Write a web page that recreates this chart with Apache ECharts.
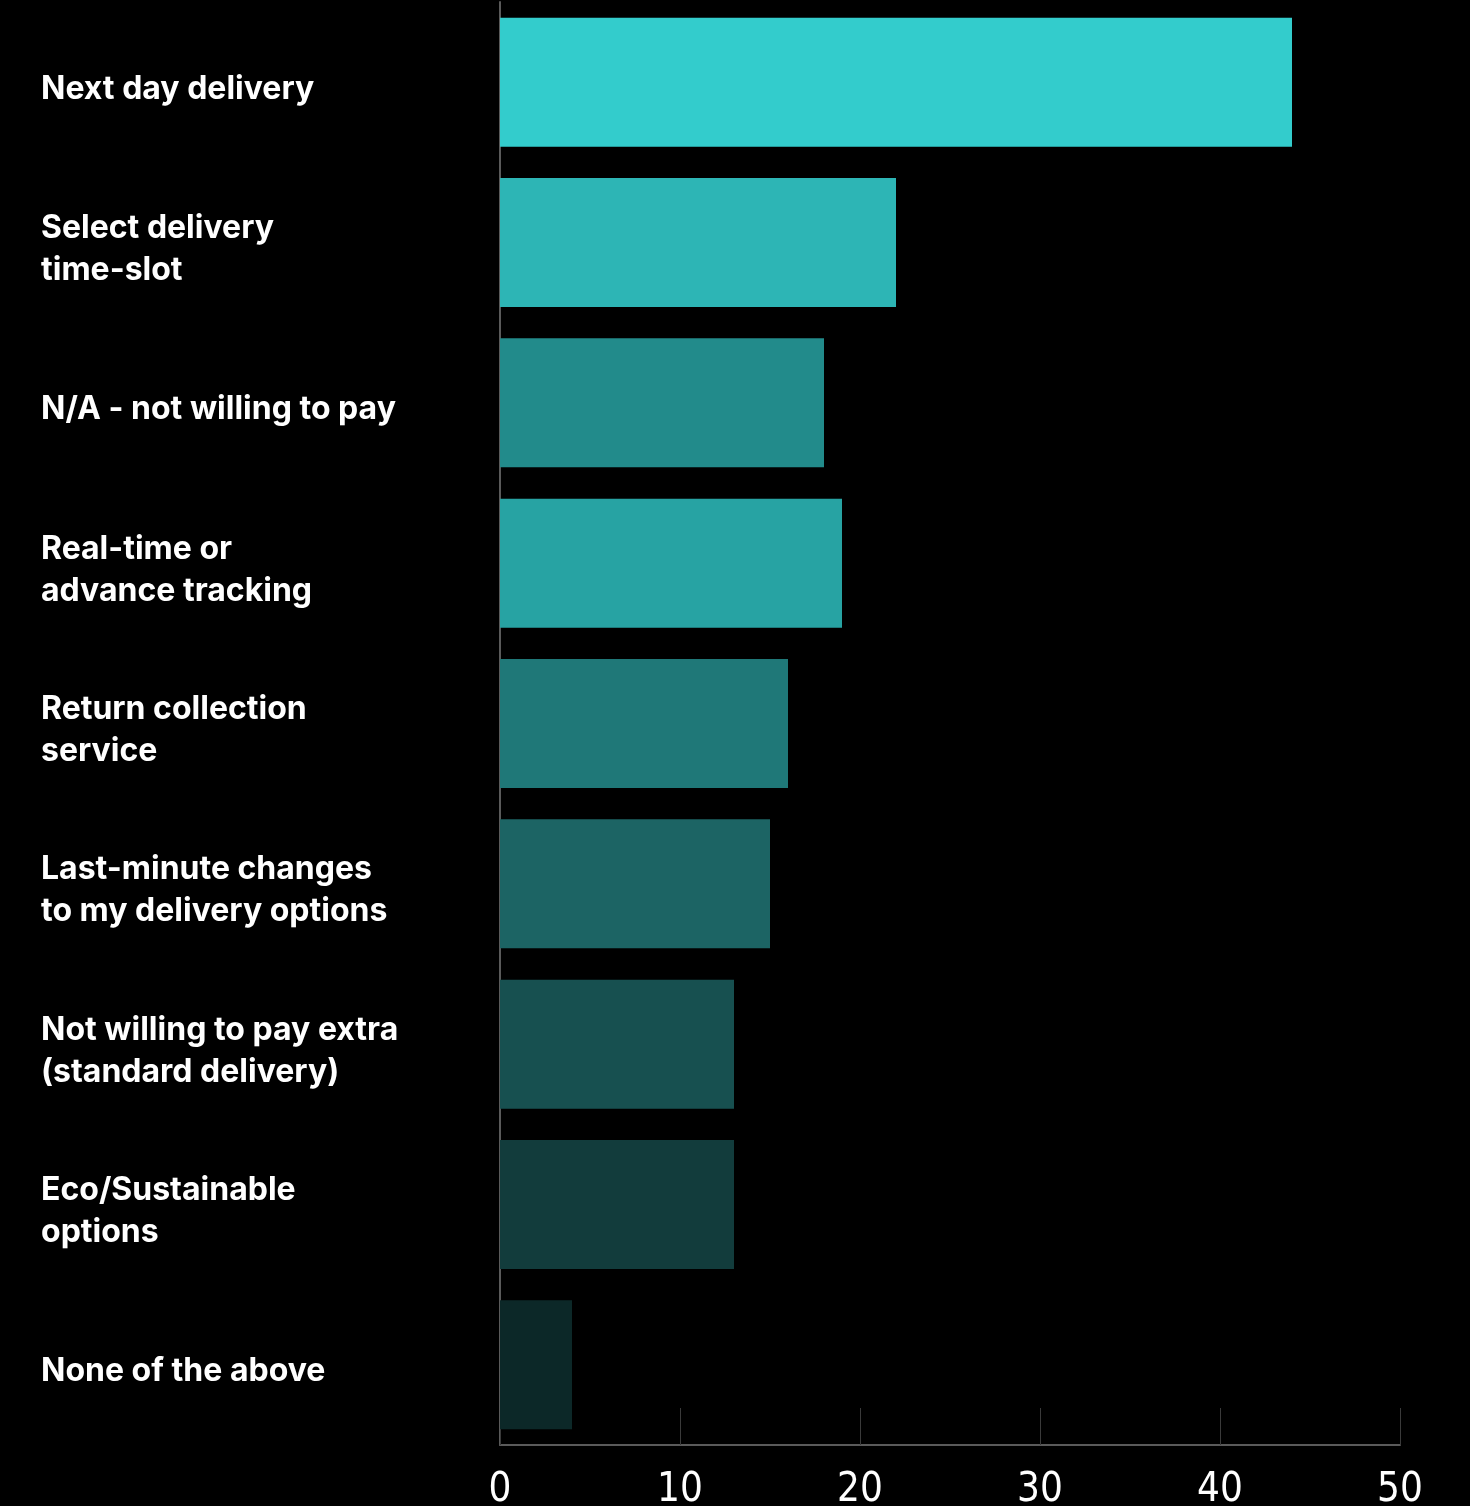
<!DOCTYPE html>
<html>
<head>
<meta charset="utf-8">
<script src="https://cdn.jsdelivr.net/npm/echarts@6/dist/echarts.min.js"></script>
<style>
  html, body { margin: 0; padding: 0; background: #000; }
  #chart { width: 1470px; height: 1506px; }
</style>
</head>
<body>
<div id="chart"></div>
<script>
// categories, top to bottom
const categories = [
  'Next day delivery',
  'Select delivery\ntime-slot',
  'N/A - not willing to pay',
  'Real-time or\nadvance tracking',
  'Return collection\nservice',
  'Last-minute changes\nto my delivery options',
  'Not willing to pay extra\n(standard delivery)',
  'Eco/Sustainable\noptions',
  'None of the above'
];
const values = [44, 22, 18, 19, 16, 15, 13, 13, 4];
const barColors = ['#33cccc', '#2db5b5', '#228b8b', '#27a3a3', '#1f7878',
                   '#1c6464', '#175050', '#123c3c', '#0c2828'];
const xTicks = [0, 10, 20, 30, 40, 50];

var chart = echarts.init(document.getElementById('chart'));

var labelFont = {
  color: '#fff',
  fontSize: 32,
  fontWeight: 700,
  fontFamily: 'Inter, sans-serif',
  lineHeight: 42
};

var option = {
  backgroundColor: '#000',
  animation: false,
  grid: { left: 500, right: 70, top: 2, bottom: 61, containLabel: false, outerBoundsMode: 'none' },
  xAxis: {
    type: 'value',
    min: xTicks[0],
    max: xTicks[xTicks.length - 1],
    interval: 10,
    axisLine: { show: true, lineStyle: { color: '#5a5a5a', width: 2 } },
    axisTick: { show: true, inside: true, length: 37, lineStyle: { color: '#3a3a3a', width: 1 } },
    splitLine: { show: false },
    axisLabel: {
      color: '#fff',
      fontSize: 40,
      fontFamily: 'Liberation Sans Narrow, DejaVu Sans Condensed, sans-serif',
      margin: 26
    }
  },
  yAxis: {
    type: 'category',
    inverse: true,
    data: categories,
    axisLine: { show: true, lineStyle: { color: '#5a5a5a', width: 2 } },
    axisTick: { show: false },
    axisLabel: Object.assign({}, labelFont, {
      align: 'left',
      margin: 459,
      formatter: function (v) {
        return v.split('\n').map(function (line, i) {
          return (i === 0 ? '{first|' : '{rest|') + line + '}';
        }).join('\n');
      },
      rich: {
        first: Object.assign({}, labelFont, { lineHeight: 56, padding: [14, 0, 0, 0] }),
        rest: Object.assign({}, labelFont)
      }
    })
  },
  series: [{
    type: 'bar',
    data: values.map(function (v, i) {
      return { value: v, itemStyle: { color: barColors[i] } };
    }),
    barCategoryGap: '19.5%'
  }]
};

chart.setOption(option);
</script>
</body>
</html>
